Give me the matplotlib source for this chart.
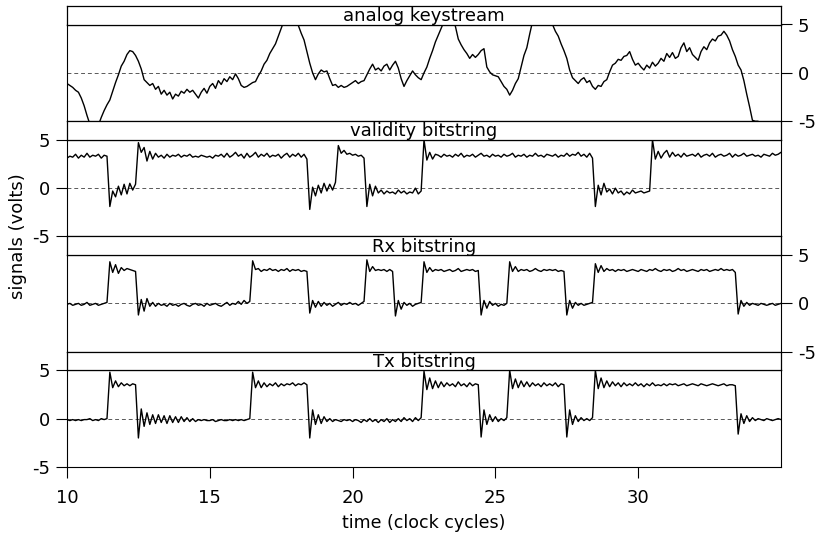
import numpy as np
import matplotlib
matplotlib.use('Agg')
import matplotlib.pyplot as plt

plt.rcParams['font.family'] = 'DejaVu Sans'
plt.rcParams['axes.unicode_minus'] = False

# scope samples, one every 0.1 clock cycle from 10 to 35
time = np.linspace(10, 35, 251)

keystream = [
    -1.1, -1.3, -1.5, -1.8, -2.0, -2.6, -3.4, -4.4, -5.3, -5.6,
    -5.6, -5.4, -4.6, -3.9, -3.3, -2.8, -1.9, -1.0, -0.2, 0.7,
    1.2, 1.9, 2.3, 2.2, 1.8, 1.2, 0.4, -0.7, -1.0, -1.3,
    -1.1, -1.7, -1.4, -2.2, -1.8, -2.3, -2.0, -2.7, -2.2, -2.4,
    -1.9, -2.1, -1.7, -2.0, -1.8, -2.2, -2.6, -2.0, -1.6, -2.1,
    -1.4, -1.1, -1.6, -0.8, -1.2, -0.6, -0.9, -0.4, -0.7, -0.1,
    -0.6, -1.3, -1.5, -1.4, -1.2, -1.0, -0.9, -0.3, 0.2, 0.9,
    1.3, 2.0, 2.5, 3.0, 3.8, 4.6, 5.4, 5.8, 5.8, 5.7,
    5.5, 4.9, 4.1, 3.4, 2.2, 1.0, 0.0, -0.7, -0.1, 0.3,
    0.1, 0.2, -0.6, -1.3, -1.2, -1.5, -1.3, -1.5, -1.4, -1.2,
    -1.0, -0.8, -1.1, -0.9, -0.8, -0.2, 0.4, 0.9, 0.3, 0.5,
    0.2, 0.7, 0.9, 0.3, 0.8, 1.2, 0.5, -0.6, -1.4, -0.8,
    -0.3, 0.2, -0.2, -0.5, -0.7, 0.0, 0.6, 1.5, 2.3, 3.2,
    3.9, 4.6, 5.3, 5.8, 5.8, 5.6, 4.8, 3.5, 2.9, 2.4,
    2.0, 1.5, 1.9, 1.6, 1.9, 2.3, 2.5, 0.6, 0.1, -0.2,
    -0.3, -0.4, -0.9, -1.4, -1.7, -2.3, -1.8, -1.1, -0.6, 0.6,
    1.8, 2.6, 4.0, 5.3, 5.8, 5.9, 5.9, 5.8, 5.7, 5.4,
    5.0, 4.3, 3.8, 3.0, 2.3, 1.5, 0.3, -0.5, -0.8, -1.1,
    -0.7, -0.5, -1.0, -0.8, -1.4, -1.7, -1.3, -1.4, -0.9, -0.7,
    0.1, 0.8, 1.0, 1.4, 1.3, 1.7, 1.8, 2.2, 1.4, 0.8,
    1.0, 0.6, 0.3, 0.8, 0.5, 1.1, 0.7, 1.0, 1.5, 1.2,
    2.0, 1.6, 2.1, 1.5, 1.7, 2.6, 3.1, 2.2, 2.6, 1.9,
    1.6, 1.3, 2.2, 2.7, 2.4, 3.1, 3.5, 3.3, 3.8, 3.9,
    4.3, 3.9, 3.3, 2.4, 1.7, 0.8, 0.3, -0.8, -2.2, -3.5,
    -4.9, -5.0, -5.0, -5.6, -6.0, -6.0, -6.0, -6.0, -6.0, -6.0,
    -6.0,
]

validity = [
    3.1, 3.3, 3.2, 3.5, 3.1, 3.4, 3.2, 3.6, 3.2, 3.4,
    3.3, 3.5, 3.1, 3.4, 3.3, -1.9, -0.3, -0.9, 0.2, -0.7,
    0.4, -0.6, 0.5, -0.2, 0.4, 4.7, 3.7, 4.2, 2.8, 3.8,
    3.0, 3.6, 3.2, 3.4, 3.1, 3.5, 3.2, 3.4, 3.3, 3.5,
    3.2, 3.4, 3.3, 3.5, 3.2, 3.3, 3.2, 3.4, 3.3, 3.2,
    3.3, 3.1, 3.4, 3.3, 3.5, 3.2, 3.6, 3.2, 3.4, 3.7,
    3.3, 3.5, 3.1, 3.6, 3.2, 3.4, 3.7, 3.2, 3.5, 3.3,
    3.6, 3.2, 3.4, 3.3, 3.5, 3.1, 3.4, 3.6, 3.2, 3.5,
    3.3, 3.6, 3.2, 3.5, 3.0, -2.2, 0.1, -0.8, 0.3, -0.5,
    0.5, -0.3, 0.4, -0.2, 0.6, 4.4, 3.6, 3.9, 3.5, 3.6,
    3.4, 3.5, 3.3, 3.4, 3.1, -1.9, 0.4, -0.8, 0.2, -0.5,
    -0.2, -0.6, -0.3, -0.5, -0.4, -0.6, -0.2, -0.5, -0.3, -0.6,
    -0.4, -0.5, 0.0, -0.6, -0.3, 5.0, 2.9, 3.7, 3.0, 3.5,
    3.4, 3.2, 3.5, 3.3, 3.4, 3.2, 3.5, 3.3, 3.6, 3.2,
    3.4, 3.3, 3.5, 3.2, 3.4, 3.6, 3.3, 3.4, 3.2, 3.5,
    3.3, 3.4, 3.2, 3.5, 3.3, 3.4, 3.6, 3.2, 3.4, 3.3,
    3.5, 3.2, 3.4, 3.3, 3.6, 3.3, 3.4, 3.2, 3.5, 3.4,
    3.3, 3.5, 3.2, 3.4, 3.3, 3.6, 3.3, 3.5, 3.4, 3.7,
    3.3, 3.5, 3.2, 3.6, 3.1, -1.9, 0.3, -0.7, 0.5, -0.4,
    -0.1, -0.6, 0.0, -0.5, -0.3, -0.7, -0.4, -0.6, -0.2, -0.5,
    -0.4, -0.3, -0.5, -0.4, -0.3, 5.0, 3.0, 3.8, 3.1, 3.6,
    3.9, 3.2, 3.7, 3.3, 3.5, 3.2, 3.6, 3.3, 3.4, 3.5,
    3.3, 3.6, 3.2, 3.4, 3.5, 3.3, 3.6, 3.2, 3.4, 3.5,
    3.3, 3.4, 3.6, 3.2, 3.5, 3.3, 3.4, 3.6, 3.3, 3.4,
    3.5, 3.3, 3.4, 3.2, 3.5, 3.4, 3.3, 3.6, 3.4, 3.5,
    3.7,
]

rx = [
    -0.1, 0.0, -0.2, -0.1, 0.0, -0.2, -0.1, 0.1, -0.2, -0.1,
    0.0, -0.2, -0.1, 0.0, 0.1, 4.3, 3.2, 4.0, 3.1, 3.7,
    3.4, 3.6, 3.5, 3.4, 3.3, -1.2, 0.4, -0.8, 0.5, -0.3,
    0.1, -0.3, 0.0, -0.2, -0.1, -0.3, 0.0, -0.2, -0.1, -0.3,
    -0.1, 0.0, -0.2, -0.3, -0.1, 0.0, -0.2, -0.1, -0.3, 0.0,
    -0.2, -0.1, 0.0, -0.2, -0.3, -0.1, 0.1, -0.2, 0.0, -0.1,
    0.2, -0.1, 0.3, 0.0, 0.2, 4.4, 3.5, 3.6, 3.3, 3.5,
    3.4, 3.6, 3.4, 3.5, 3.3, 3.5, 3.4, 3.6, 3.3, 3.5,
    3.4, 3.5, 3.3, 3.4, 3.3, -1.0, 0.3, -0.4, 0.2, -0.3,
    0.1, -0.2, 0.0, -0.3, -0.1, 0.1, -0.2, 0.0, -0.1, 0.1,
    -0.1, 0.0, -0.2, 0.0, 0.2, 4.5, 3.3, 3.8, 3.4, 3.5,
    3.4, 3.5, 3.3, 3.5, 3.3, -1.3, 0.3, -0.6, 0.1, -0.2,
    0.0, -0.3, -0.1, 0.0, 0.1, 4.3, 3.2, 3.7, 3.3, 3.5,
    3.4, 3.5, 3.3, 3.4, 3.5, 3.3, 3.4, 3.6, 3.3, 3.4,
    3.5, 3.4, 3.5, 3.3, 3.4, -1.2, 0.3, -0.5, 0.2, -0.2,
    0.0, -0.3, -0.1, -0.2, 0.0, 4.3, 3.3, 3.8, 3.3, 3.5,
    3.4, 3.5, 3.3, 3.4, 3.6, 3.4, 3.3, 3.5, 3.4, 3.5,
    3.4, 3.5, 3.3, 3.4, 3.3, -1.2, 0.3, -0.5, 0.1, -0.2,
    0.0, -0.2, -0.1, 0.0, 0.1, 4.1, 3.2, 3.9, 3.3, 3.6,
    3.4, 3.5, 3.3, 3.5, 3.4, 3.5, 3.3, 3.4, 3.5, 3.4,
    3.3, 3.5, 3.4, 3.3, 3.5, 3.4, 3.6, 3.4, 3.3, 3.5,
    3.4, 3.5, 3.3, 3.4, 3.6, 3.4, 3.5, 3.3, 3.4, 3.5,
    3.4, 3.3, 3.5, 3.4, 3.5, 3.3, 3.4, 3.5, 3.4, 3.6,
    3.4, 3.5, 3.4, 3.5, 3.2, -1.1, 0.3, -0.3, 0.1, -0.2,
    0.0, -0.1, -0.2, 0.0, -0.1, -0.2, -0.1, 0.0, -0.2, -0.1,
    0.0,
]

tx = [
    -0.1, -0.2, -0.1, -0.2, -0.1, -0.2, -0.1, -0.1, 0.0, -0.2,
    -0.1, -0.2, 0.0, -0.1, 0.0, 4.8, 3.2, 3.9, 3.3, 3.7,
    3.4, 3.6, 3.4, 3.6, 3.5, -2.0, 1.0, -0.8, 0.6, -0.6,
    0.4, -0.5, 0.4, -0.4, 0.3, -0.5, 0.3, -0.4, 0.2, -0.4,
    0.2, -0.3, 0.1, -0.3, 0.0, -0.3, -0.1, -0.2, -0.1, -0.2,
    -0.2, -0.1, -0.3, -0.2, -0.1, -0.2, -0.2, -0.1, -0.2, -0.1,
    -0.2, -0.1, -0.2, -0.1, 0.0, 4.8, 3.2, 3.9, 3.2, 3.7,
    3.3, 3.6, 3.4, 3.7, 3.3, 3.6, 3.4, 3.6, 3.5, 3.7,
    3.4, 3.6, 3.5, 3.7, 3.5, -2.0, 0.9, -0.6, 0.4, -0.5,
    0.2, -0.3, 0.0, -0.3, -0.1, -0.2, -0.3, -0.1, -0.2, -0.1,
    -0.3, -0.1, -0.2, -0.4, -0.1, -0.3, 0.0, -0.3, -0.1, -0.4,
    -0.1, -0.3, 0.0, -0.4, -0.1, -0.3, 0.0, -0.3, 0.1, -0.2,
    0.0, -0.3, 0.1, -0.2, 0.1, 4.9, 3.0, 4.2, 3.1, 3.9,
    3.2, 3.8, 3.3, 3.7, 3.4, 3.6, 3.3, 3.8, 3.4, 3.6,
    3.3, 3.7, 3.4, 3.6, 3.5, -1.9, 0.9, -0.6, 0.4, -0.3,
    0.2, -0.3, 0.0, -0.2, 0.1, 5.0, 3.1, 4.1, 3.2, 3.9,
    3.3, 3.8, 3.3, 3.7, 3.4, 3.6, 3.3, 3.7, 3.4, 3.6,
    3.4, 3.7, 3.3, 3.6, 3.5, -1.9, 0.9, -0.6, 0.3, -0.3,
    0.1, -0.2, 0.0, -0.2, 0.1, 5.0, 3.1, 4.2, 3.2, 3.9,
    3.3, 3.8, 3.4, 3.7, 3.3, 3.7, 3.4, 3.6, 3.4, 3.7,
    3.4, 3.6, 3.3, 3.6, 3.4, 3.7, 3.4, 3.5, 3.4, 3.6,
    3.4, 3.6, 3.5, 3.6, 3.4, 3.5, 3.6, 3.4, 3.5, 3.6,
    3.5, 3.4, 3.6, 3.5, 3.4, 3.5, 3.6, 3.5, 3.4, 3.5,
    3.6, 3.4, 3.5, 3.5, 3.4, -1.6, 0.5, -0.5, 0.3, -0.3,
    0.1, -0.2, 0.0, -0.1, -0.2, 0.0, -0.1, -0.2, -0.1, 0.0,
    -0.1,
]

panel_titles = ['analog keystream', 'validity bitstring', 'Rx bitstring', 'Tx bitstring']
panel_series = [keystream, validity, rx, tx]
y_ticks = [-5, 0, 5]
x_ticks = [10, 15, 20, 25, 30]

W_PX, H_PX = 824, 539
LEFT, RIGHT = 67, 781
TOP = 6
STRIP_H = 18.5
PANEL_H = 115.25


def fig_box(top_px, height_px):
    return [LEFT / W_PX, 1 - (top_px + height_px) / H_PX,
            (RIGHT - LEFT) / W_PX, height_px / H_PX]


def draw_panel(fig, i, title, values):
    strip_top = TOP + PANEL_H * i
    plot_top = strip_top + STRIP_H
    ax = fig.add_axes(fig_box(plot_top, PANEL_H - STRIP_H))
    st = fig.add_axes(fig_box(strip_top, STRIP_H))

    ax.axhline(0, color='0.35', lw=0.7, linestyle=(0, (4, 3)), zorder=1)
    ax.plot(time, values, color='black', lw=1.0, zorder=2)
    ax.set_xlim(10, 35)
    ax.set_ylim(-5, 5)
    for sp in ax.spines.values():
        sp.set_linewidth(0.8)

    # lattice style: y axis alternates right / left
    ax.set_yticks(y_ticks)
    ax.set_yticklabels([str(v) for v in y_ticks])
    if i % 2 == 0:
        ax.tick_params(axis='y', left=False, labelleft=False,
                       right=True, labelright=True)
    ax.tick_params(axis='y', direction='out', length=8, width=0.8,
                   labelsize=13, pad=4)

    ax.set_xticks(x_ticks)
    if i == 3:
        ax.tick_params(axis='x', direction='out', length=8, width=0.8,
                       labelsize=13, pad=8)
    else:
        ax.tick_params(axis='x', bottom=False, labelbottom=False)

    st.set_xticks([])
    st.set_yticks([])
    for sp in st.spines.values():
        sp.set_linewidth(0.9)
    st.text(0.5, 0.18, title, transform=st.transAxes, ha='center',
            va='baseline', fontsize=13)
    return ax


def main():
    fig = plt.figure(figsize=(W_PX / 100, H_PX / 100), dpi=100)
    for i, (title, values) in enumerate(zip(panel_titles, panel_series)):
        draw_panel(fig, i, title, values)

    fig.text(0.022, 1 - 236 / H_PX, 'signals (volts)', rotation=90,
             ha='center', va='center', fontsize=13)
    fig.text((LEFT + RIGHT) / 2 / W_PX, 1 - 523 / H_PX, 'time (clock cycles)',
             ha='center', va='center', fontsize=12.5)

    fig.savefig('out.png', dpi=100, facecolor='white')


if __name__ == '__main__':
    main()
